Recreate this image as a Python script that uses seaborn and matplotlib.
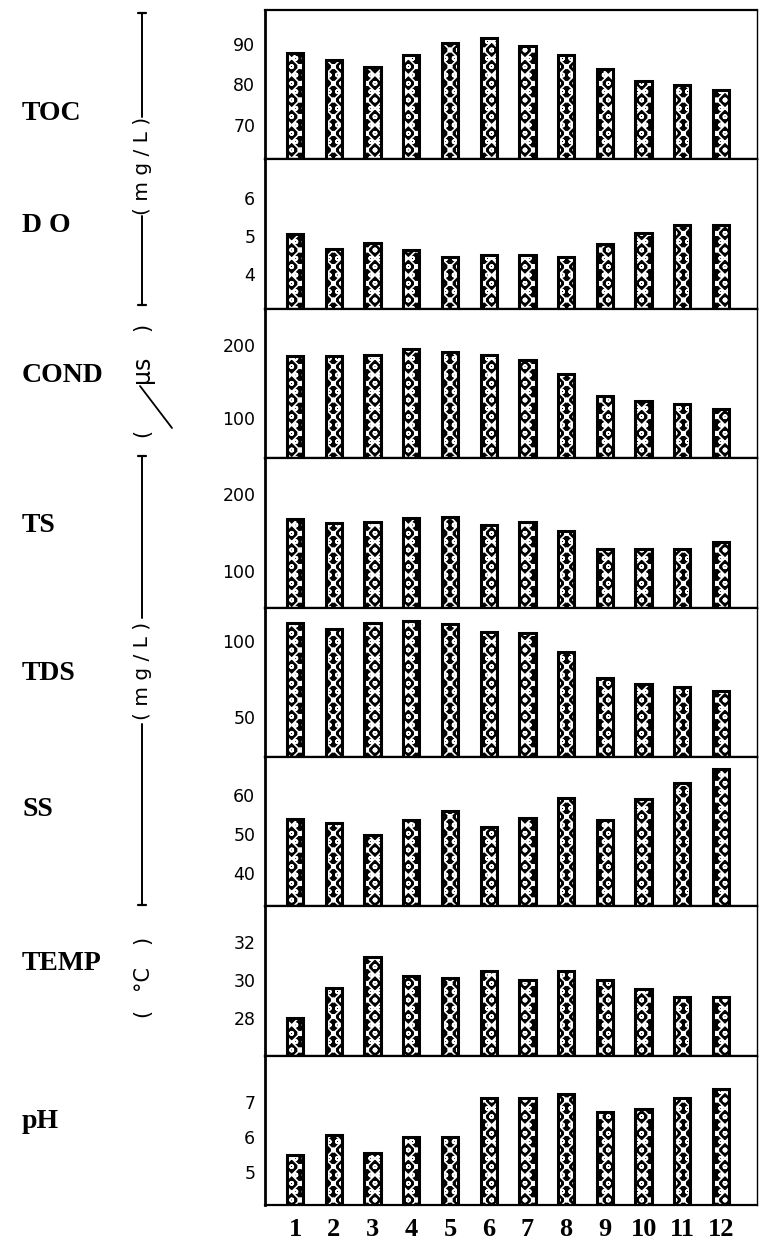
import matplotlib
matplotlib.use("Agg")
import matplotlib.pyplot as plt
import numpy as np
import pandas as pd
import seaborn as sns
from matplotlib.lines import Line2D

# Monthly water-quality readings (months 1-12)
months = [str(i) for i in range(1, 13)]

toc = [87.7, 86.1, 84.3, 87.1, 90.2, 91.5, 89.4, 87.3, 83.8, 80.8, 79.8, 78.5]
do = [5.04, 4.66, 4.81, 4.63, 4.45, 4.51, 4.51, 4.45, 4.80, 5.09, 5.28, 5.28]
cond = [185, 185, 186, 195, 191, 186, 180, 160, 130, 123, 119, 112]
ts = [167, 162, 164, 169, 170, 160, 163, 152, 129, 128, 128, 137]
tds = [112, 108, 112, 113, 111, 106, 105, 93, 76, 72, 70, 67]
ss = [53.8, 52.8, 49.8, 53.7, 55.8, 51.7, 54.0, 59.2, 53.7, 58.9, 63.2, 66.8]
temp = [28.0, 29.6, 31.2, 30.2, 30.1, 30.5, 30.0, 30.5, 30.0, 29.5, 29.1, 29.1]
ph = [5.5, 6.05, 5.55, 6.0, 6.0, 7.1, 7.1, 7.2, 6.7, 6.8, 7.1, 7.35]

params = ["TOC", "DO", "COND", "TS", "TDS", "SS", "TEMP", "pH"]
row_titles = ["TOC", "D O", "COND", "TS", "TDS", "SS", "TEMP", "pH"]
series = [toc, do, cond, ts, tds, ss, temp, ph]
y_limits = [(61.5, 98.3), (3.1, 7.0), (45, 250), (53, 246),
            (24, 122), (31.5, 69.8), (26.0, 33.9), (4.07, 8.3)]
y_ticks = [[70, 80, 90], [4, 5, 6], [100, 200], [100, 200],
           [50, 100], [40, 50, 60], [28, 30, 32], [5, 6, 7]]

df = pd.DataFrame({
    "param": np.repeat(params, len(months)),
    "month": months * len(params),
    "value": np.concatenate(series),
})

sns.set_theme(style="white")
plt.rcParams["font.family"] = ["DejaVu Sans"]
plt.rcParams["hatch.linewidth"] = 1.15

W, H = 760, 1252
fig = plt.figure(figsize=(W / 100, H / 100), dpi=100)

left_px, right_px, top_px, bottom_px = 265, 757, 10, 1205
panel_h = (bottom_px - top_px) / len(params)

label_y = [114, 226, 376, 525, 673, 810, 964, 1122]

for i, (name, lim, ticks) in enumerate(zip(params, y_limits, y_ticks)):
    y0 = top_px + i * panel_h
    ax = fig.add_axes([left_px / W, 1 - (y0 + panel_h) / H,
                       (right_px - left_px) / W, panel_h / H])
    sub = df[df["param"] == name]
    # patterned fill: white chain pattern on black bars
    sns.barplot(data=sub, x="month", y="value", ax=ax, color="black",
                saturation=1, width=0.42, errorbar=None)
    for p in ax.patches:
        p.set_facecolor("black")
        p.set_edgecolor("white")
        p.set_linewidth(0)
        p.set_hatch("xxoo")
    # solid black outline around each bar
    sns.barplot(data=sub, x="month", y="value", ax=ax, color="black",
                saturation=1, width=0.42, errorbar=None, fill=False,
                linewidth=2.2)
    ax.set_xlim(-0.78, 11.93)
    ax.set_ylim(*lim)
    ax.set_yticks(ticks)
    ax.set_yticklabels([str(t) for t in ticks], fontsize=12.5, color="black")
    ax.tick_params(axis="y", length=0, pad=7)
    ax.set_xlabel("")
    ax.set_ylabel("")
    for s in ax.spines.values():
        s.set_visible(True)
        s.set_color("black")
        s.set_linewidth(1.6)
    ax.spines["left"].set_linewidth(2.0)
    ax.spines["right"].set_linewidth(1.0)
    if i < len(params) - 1:
        ax.set_xticklabels([])
        ax.tick_params(axis="x", length=0)
    else:
        ax.tick_params(axis="x", length=0, pad=9)
        for t in ax.get_xticklabels():
            t.set_fontfamily("Liberation Serif")
            t.set_fontweight("bold")
            t.set_fontsize(19)
            t.set_color("black")
    fig.text(22 / W, 1 - label_y[i] / H, row_titles[i], ha="left", va="center",
             fontfamily="Liberation Serif", fontweight="bold", fontsize=20,
             color="black")

# Unit brackets along the left margin
over = fig.add_axes([0, 0, 1, 1], facecolor="none")
over.set_xlim(0, W)
over.set_ylim(H, 0)
over.axis("off")
ux = 142

def vline(y1, y2):
    over.add_line(Line2D([ux, ux], [y1, y2], color="black", lw=1.4))

def cap(y):
    over.add_line(Line2D([ux - 4, ux + 4], [y, y], color="black", lw=1.6))

def unit(y, s, size=14.5):
    over.text(ux, y, s, rotation=90, ha="center", va="center",
              fontsize=size, color="black")

cap(13); vline(13, 117); unit(166, "( m g / L )"); vline(216, 305); cap(305)
unit(327, ")", 15); unit(369, "μs", 17); unit(433, "(", 15)
over.add_line(Line2D([ux - 2, ux + 30], [386, 428], color="black", lw=1.3))
cap(456); vline(456, 618); unit(671, "( m g / L )"); vline(724, 905); cap(905)
unit(940, ")", 15); unit(978, "°C", 15); unit(1013, "(", 15)

fig.savefig("out.png", dpi=100, facecolor="white")
